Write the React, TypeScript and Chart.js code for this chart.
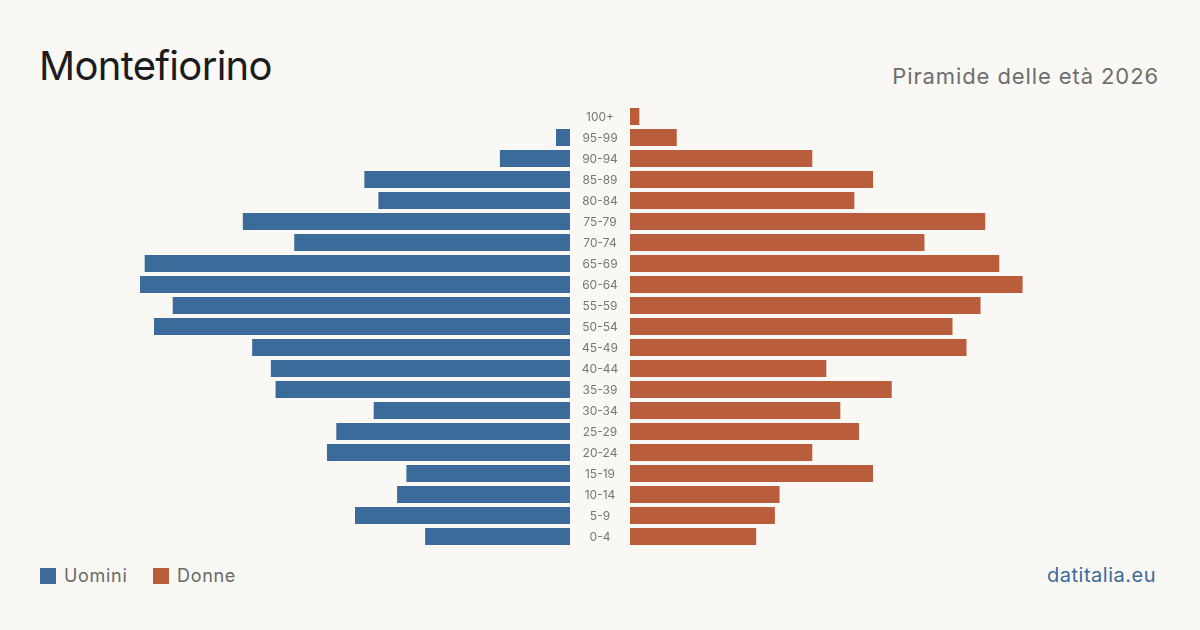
import React, { useEffect, useRef } from "react";
import { Chart, registerables } from "chart.js";

Chart.register(...registerables);

const ageGroups = [
  "0-4", "5-9", "10-14", "15-19", "20-24", "25-29", "30-34", "35-39", "40-44", "45-49",
  "50-54", "55-59", "60-64", "65-69", "70-74", "75-79", "80-84", "85-89", "90-94", "95-99", "100+",
];
const men = [31, 46, 37, 35, 52, 50, 42, 63, 64, 68, 89, 85, 92, 91, 59, 70, 41, 44, 15, 3, 0];
const women = [27, 31, 32, 52, 39, 49, 45, 56, 42, 72, 69, 75, 84, 79, 63, 76, 48, 52, 39, 10, 2];
const seriesNames = ["Uomini", "Donne"];
const seriesColors = ["#3b6b9b", "#ba5d3d"];

const title = "Montefiorino";
const subtitle = "Piramide delle età 2026";
const source = "datitalia.eu";

const FONT = "Inter, 'Noto Sans', sans-serif";
const BG = "#f9f8f4";

export default function App() {
  const leftRef = useRef<HTMLCanvasElement>(null);
  const rightRef = useRef<HTMLCanvasElement>(null);

  useEffect(() => {
    document.body.style.margin = "0";
    document.body.style.background = BG;
    const xMax = Math.max(...men, ...women);
    const barPct = 17 / 21;

    const common = (reverseX: boolean) => ({
      indexAxis: "y" as const,
      responsive: false,
      animation: false as const,
      plugins: { legend: { display: false }, tooltip: { enabled: false } },
      scales: {
        x: { display: false, min: 0, max: xMax, reverse: reverseX },
        y: { display: false, reverse: true },
      },
    });

    const left = new Chart(leftRef.current!, {
      type: "bar",
      data: {
        labels: ageGroups,
        datasets: [
          {
            label: seriesNames[0],
            data: men,
            backgroundColor: seriesColors[0],
            borderWidth: 0,
            barPercentage: barPct,
            categoryPercentage: 1,
          },
        ],
      },
      options: { ...common(true), layout: { padding: 0 } },
    });

    const centerLabels = {
      id: "centerLabels",
      afterDraw(chart: any) {
        const { ctx, chartArea, scales } = chart;
        ctx.save();
        ctx.font = `12px ${FONT}`;
        ctx.fillStyle = "#777777";
        ctx.textAlign = "center";
        ctx.textBaseline = "middle";
        ageGroups.forEach((g, i) => {
          ctx.fillText(g, chartArea.left - 30, scales.y.getPixelForValue(i) + 0.5);
        });
        ctx.restore();
      },
    };

    const right = new Chart(rightRef.current!, {
      type: "bar",
      data: {
        labels: ageGroups,
        datasets: [
          {
            label: seriesNames[1],
            data: women,
            backgroundColor: seriesColors[1],
            borderWidth: 0,
            barPercentage: barPct,
            categoryPercentage: 1,
          },
        ],
      },
      options: { ...common(false), layout: { padding: { left: 60, right: 0, top: 0, bottom: 0 } } },
      plugins: [centerLabels],
    });

    return () => {
      left.destroy();
      right.destroy();
    };
  }, []);

  const legendPos = [40, 153];

  return (
    <div
      style={{
        position: "fixed",
        left: 0,
        top: 0,
        width: 1200,
        height: 630,
        background: BG,
        fontFamily: FONT,
        overflow: "hidden",
      }}
    >
      <div
        style={{
          position: "absolute",
          left: 39,
          top: 46,
          fontSize: 40,
          lineHeight: "40px",
          letterSpacing: "-0.7px",
          color: "#1c1c1c",
          whiteSpace: "nowrap",
        }}
      >
        {title}
      </div>
      <div
        style={{
          position: "absolute",
          right: 41,
          top: 65,
          fontSize: 22,
          lineHeight: "22px",
          letterSpacing: "0.9px",
          color: "#6e6e6e",
          whiteSpace: "nowrap",
        }}
      >
        {subtitle}
      </div>
      <canvas
        ref={leftRef}
        width={430}
        height={441}
        style={{ position: "absolute", left: 140, top: 106, width: 430, height: 441 }}
      />
      <canvas
        ref={rightRef}
        width={490}
        height={441}
        style={{ position: "absolute", left: 570, top: 106, width: 490, height: 441 }}
      />
      {seriesNames.map((name, i) => (
        <React.Fragment key={name}>
          <div
            style={{
              position: "absolute",
              left: legendPos[i],
              top: 568,
              width: 16,
              height: 16,
              background: seriesColors[i],
            }}
          />
          <div
            style={{
              position: "absolute",
              left: legendPos[i] + 24,
              top: 567,
              fontSize: 18,
              lineHeight: "18px",
              letterSpacing: "0.7px",
              color: "#6a6a6a",
              whiteSpace: "nowrap",
            }}
          >
            {name}
          </div>
        </React.Fragment>
      ))}
      <div
        style={{
          position: "absolute",
          right: 44,
          top: 565,
          fontSize: 20,
          lineHeight: "20px",
          letterSpacing: "0.5px",
          color: "#3b6b9b",
          whiteSpace: "nowrap",
        }}
      >
        {source}
      </div>
    </div>
  );
}
